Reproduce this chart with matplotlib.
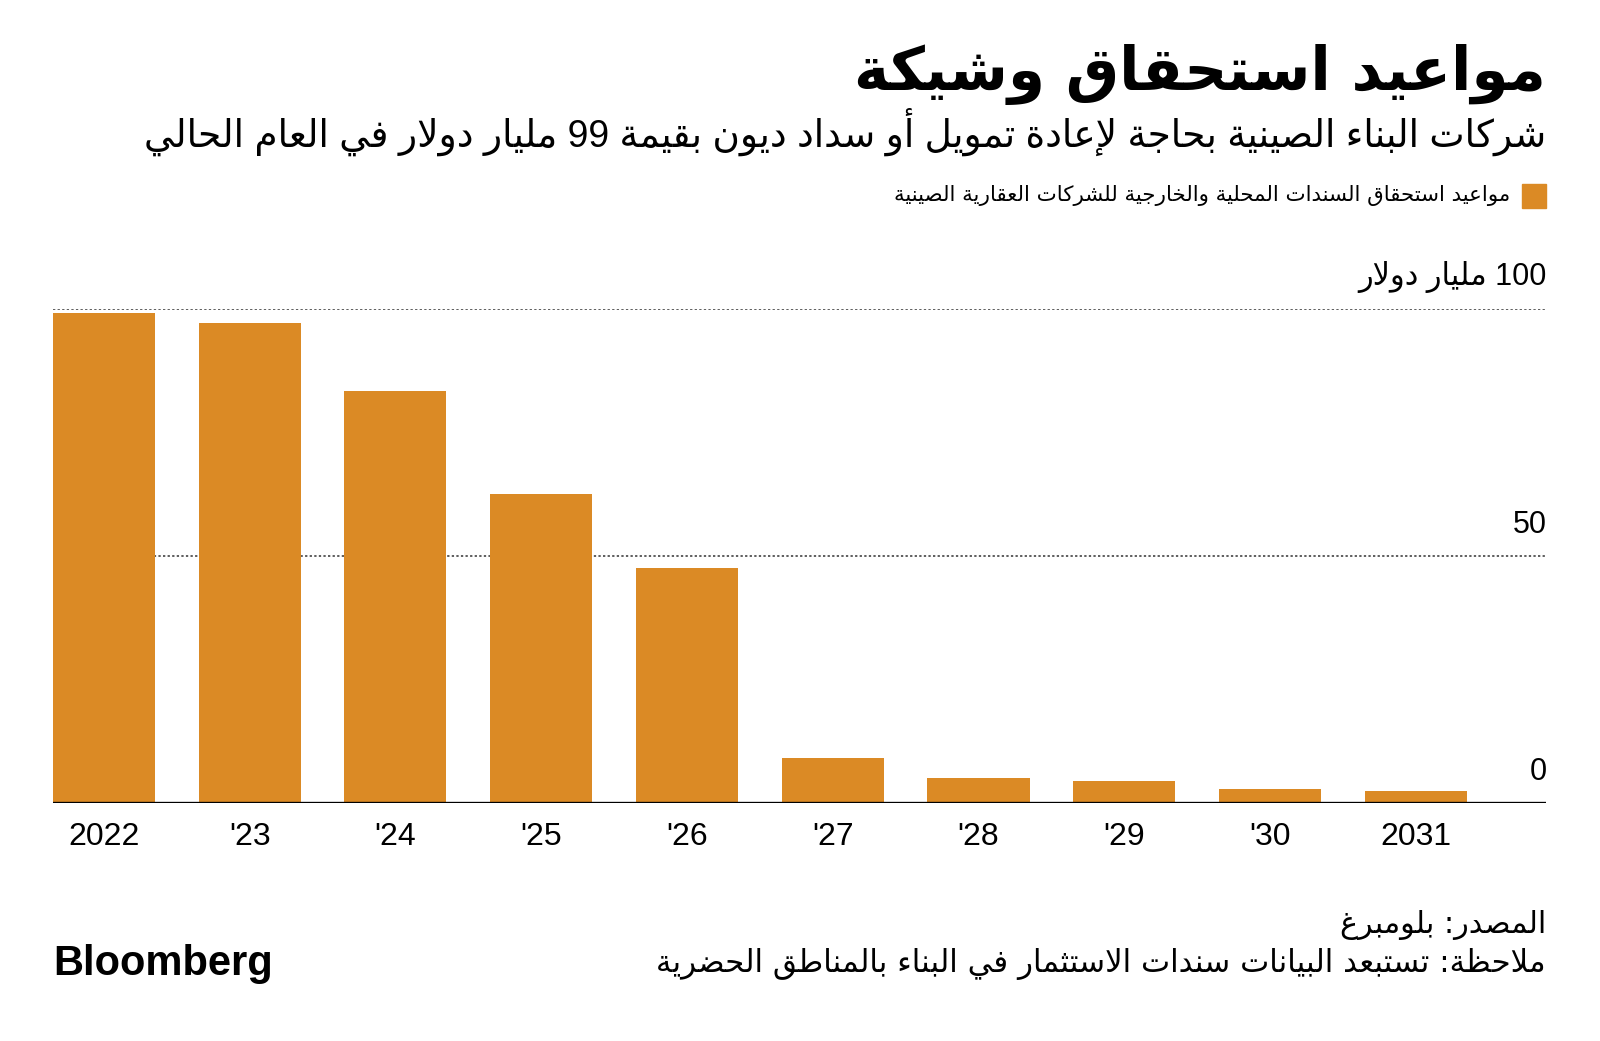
"""
Bond maturities of Chinese property developers, Bloomberg-style bar chart.
Arabic text is shaped by hand (presentation forms) since matplotlib does no shaping.
"""

import re

import matplotlib
matplotlib.use("Agg")
from matplotlib import pyplot as plt

# data
years = ["2022", "'23", "'24", "'25", "'26", "'27", "'28", "'29", "'30", "2031"]
values = [99.2, 97.1, 83.5, 62.6, 47.5, 9.1, 5.0, 4.4, 2.9, 2.5]
y_ticks = [0, 50, 100]
y_tick_labels = ["0", "50", "100 مليار دولار"]

title = "مواعيد استحقاق وشيكة"
subtitle = "شركات البناء الصينية بحاجة لإعادة تمويل أو سداد ديون بقيمة 99 مليار دولار في العام الحالي"
legend_label = "مواعيد استحقاق السندات المحلية والخارجية للشركات العقارية الصينية"
source = "المصدر: بلومبرغ"
note = "ملاحظة: تستبعد البيانات سندات الاستثمار في البناء بالمناطق الحضرية"

BAR_COLOR = "#DB8A25"

# letter -> number of contextual forms, in the order of Arabic Presentation Forms-B
_SPEC = [(0x621, 1), (0x622, 2), (0x623, 2), (0x624, 2), (0x625, 2), (0x626, 4),
         (0x627, 2), (0x628, 4), (0x629, 2), (0x62A, 4), (0x62B, 4), (0x62C, 4),
         (0x62D, 4), (0x62E, 4), (0x62F, 2), (0x630, 2), (0x631, 2), (0x632, 2),
         (0x633, 4), (0x634, 4), (0x635, 4), (0x636, 4), (0x637, 4), (0x638, 4),
         (0x639, 4), (0x63A, 4), (0x641, 4), (0x642, 4), (0x643, 4), (0x644, 4),
         (0x645, 4), (0x646, 4), (0x647, 4), (0x648, 2), (0x649, 2), (0x64A, 4)]
FORMS = {}
_base = 0xFE80
for cp, n in _SPEC:
    FORMS[chr(cp)] = (_base, n)
    _base += n
LAM_ALEF = {"\u0622": 0xFEF5, "\u0623": 0xFEF7, "\u0625": 0xFEF9, "\u0627": 0xFEFB}


def shape(text):
    """Contextual forms + visual (left-to-right) order for an RTL string."""
    out = []
    i = 0
    n = len(text)
    while i < n:
        ch = text[i]
        if ch not in FORMS:
            out.append(ch)
            i += 1
            continue
        prev = text[i - 1] if i > 0 else ""
        joins_prev = prev in FORMS and FORMS[prev][1] == 4
        if ch == "\u0644" and i + 1 < n and text[i + 1] in LAM_ALEF:
            out.append(chr(LAM_ALEF[text[i + 1]] + (1 if joins_prev else 0)))
            i += 2
            continue
        base, nf = FORMS[ch]
        nxt = text[i + 1] if i + 1 < n else ""
        joins_next = nf == 4 and nxt in FORMS
        if nf == 1:
            form = 0
        elif joins_prev and joins_next:
            form = 3
        elif joins_next:
            form = 2
        elif joins_prev:
            form = 1
        else:
            form = 0
        out.append(chr(base + form))
        i += 1
    vis = "".join(out)[::-1]
    return re.sub(r"[0-9A-Za-z.,']+", lambda m: m.group()[::-1], vis)


plt.rcParams["font.family"] = ["DejaVu Sans"]

fig = plt.figure(figsize=(16, 10.41), dpi=100)
ax = fig.add_axes([0.033, 0.2286, 0.933, 0.4744])

x = list(range(len(years)))
ax.bar(x, values, width=0.7, color=BAR_COLOR, zorder=2)
ax.set_xlim(-0.35, 9.89)
ax.set_ylim(0, 100)

for t in y_ticks[1:]:
    ax.axhline(t, color="#333333", lw=1.1, ls=(0, (1.5, 1.5)), zorder=1)
ax.axhline(0, color="black", lw=2.4, zorder=3)

for t, lab in zip(y_ticks, y_tick_labels):
    ax.text(9.90, t + 3.3, shape(lab), ha="right", va="bottom",
            fontsize=22, color="black", family=["Liberation Sans", "DejaVu Sans"])

ax.set_xticks(x)
ax.set_xticklabels(years, fontsize=23, family="Liberation Sans")
ax.tick_params(axis="x", length=0, pad=14)
ax.set_yticks([])
for s in ax.spines.values():
    s.set_visible(False)

R = 1546 / 1600
fig.text(R, 1 - 90 / 1041, shape(title), ha="right", va="baseline",
         fontsize=43, fontweight="bold")
fig.text(R, 1 - 147 / 1041, shape(subtitle), ha="right", va="baseline",
         fontsize=27, family=["Liberation Sans", "DejaVu Sans"])

# legend swatch and label
fig.patches.append(plt.Rectangle((1522 / 1600, 1 - 208 / 1041), 24 / 1600, 24 / 1041,
                                 transform=fig.transFigure, color=BAR_COLOR))
fig.text(1510 / 1600, 1 - 196 / 1041, shape(legend_label), ha="right", va="center",
         fontsize=15.4)

fig.text(R, 1 - 925 / 1041, shape(source), ha="right", va="center", fontsize=21.8)
fig.text(R, 1 - 964 / 1041, shape(note), ha="right", va="center", fontsize=22.2)
fig.text(53 / 1600, 1 - 964 / 1041, "Bloomberg", ha="left", va="center",
         fontsize=30, fontweight="bold", family="Liberation Sans")

fig.savefig("out.png", dpi=100)
plt.close(fig)
